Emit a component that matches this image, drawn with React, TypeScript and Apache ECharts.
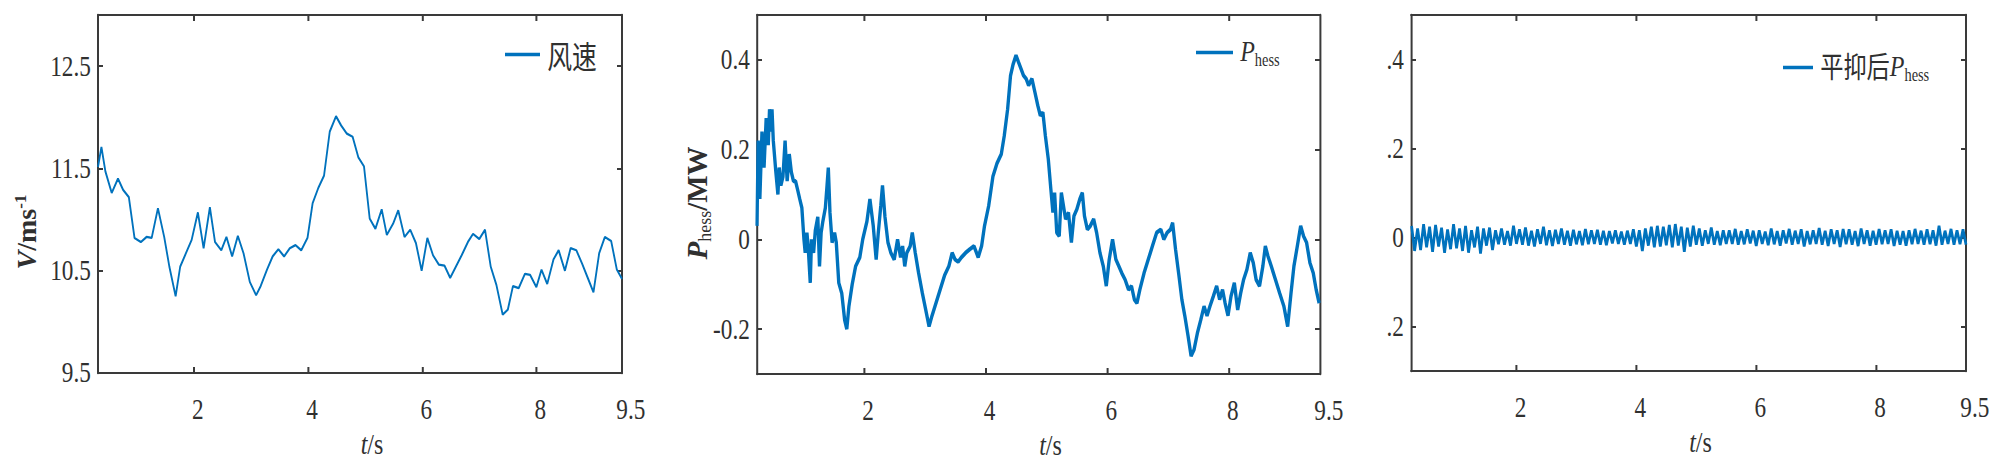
import React, { useEffect, useRef } from "react";
import * as echarts from "echarts";

// ---------- data ----------
const time1 = [0.32,0.38,0.45,0.56,0.67,0.76,0.86,0.96,1.07,1.17,1.26,1.37,1.48,1.57,1.68,1.76,1.86,1.96,2.07,2.17,2.28,2.37,2.48,2.57,2.67,2.77,2.87,2.98,3.09,3.17,3.28,3.38,3.48,3.58,3.68,3.78,3.88,3.99,4.08,4.18,4.28,4.38,4.49,4.58,4.68,4.78,4.88,4.98,5.08,5.18,5.29,5.38,5.49,5.58,5.69,5.79,5.89,5.99,6.09,6.19,6.29,6.39,6.49,6.59,6.69,6.80,6.89,7.00,7.10,7.20,7.30,7.41,7.50,7.59,7.69,7.80,7.89,8.00,8.09,8.19,8.30,8.39,8.50,8.60,8.70,8.80,8.90,9.00,9.10,9.20,9.31,9.41,9.50];
const windSpeed = [11.515,11.71,11.47,11.26,11.40,11.29,11.22,10.82,10.78,10.83,10.82,11.11,10.83,10.54,10.25,10.54,10.67,10.80,11.07,10.72,11.12,10.78,10.70,10.83,10.64,10.84,10.67,10.39,10.26,10.35,10.51,10.64,10.71,10.64,10.72,10.75,10.70,10.82,11.16,11.31,11.43,11.86,12.01,11.92,11.84,11.81,11.61,11.52,11.01,10.91,11.10,10.85,10.96,11.09,10.83,10.90,10.77,10.50,10.82,10.65,10.56,10.55,10.43,10.54,10.65,10.78,10.86,10.81,10.90,10.54,10.36,10.07,10.12,10.35,10.33,10.47,10.46,10.34,10.51,10.37,10.61,10.70,10.50,10.72,10.70,10.57,10.43,10.29,10.67,10.83,10.79,10.51,10.42];

const time2 = [0.239,0.260,0.287,0.322,0.356,0.391,0.425,0.446,0.474,0.487,0.508,0.550,0.584,0.605,0.633,0.667,0.702,0.736,0.771,0.805,0.840,0.874,0.909,0.943,0.978,1.012,1.033,1.061,1.081,1.116,1.137,1.171,1.199,1.240,1.268,1.295,1.323,1.364,1.392,1.413,1.440,1.475,1.516,1.544,1.585,1.634,1.682,1.717,1.751,1.806,1.862,1.931,1.979,2.048,2.097,2.152,2.200,2.235,2.276,2.304,2.345,2.394,2.442,2.497,2.552,2.601,2.635,2.670,2.704,2.760,2.794,2.843,2.898,2.960,3.015,3.070,3.119,3.188,3.257,3.326,3.395,3.450,3.498,3.547,3.602,3.671,3.740,3.809,3.878,3.934,3.982,4.051,4.120,4.189,4.258,4.306,4.362,4.410,4.452,4.500,4.541,4.583,4.624,4.666,4.707,4.762,4.811,4.859,4.900,4.942,4.983,5.031,5.073,5.107,5.135,5.170,5.211,5.246,5.280,5.315,5.363,5.411,5.453,5.501,5.550,5.591,5.626,5.674,5.722,5.777,5.826,5.881,5.936,5.985,6.033,6.088,6.143,6.192,6.240,6.295,6.351,6.399,6.447,6.489,6.537,6.606,6.675,6.744,6.813,6.882,6.931,6.986,7.041,7.076,7.124,7.179,7.228,7.276,7.331,7.380,7.428,7.483,7.538,7.593,7.642,7.690,7.745,7.800,7.849,7.897,7.939,7.987,8.036,8.091,8.146,8.195,8.243,8.298,8.353,8.402,8.450,8.505,8.560,8.601,8.643,8.699,8.768,8.837,8.906,8.968,9.023,9.071,9.127,9.182,9.230,9.279,9.334,9.389,9.437,9.486];
const pHess = [0.03,0.22,0.09,0.24,0.16,0.27,0.21,0.29,0.24,0.29,0.22,0.15,0.10,0.16,0.12,0.14,0.22,0.13,0.19,0.15,0.13,0.13,0.11,0.09,0.07,0.0,-0.03,0.015,-0.015,-0.097,0,-0.03,0.02,0.05,-0.06,0.015,0.04,0.07,0.12,0.16,0.06,-0.007,0.015,-0.007,-0.097,-0.12,-0.18,-0.20,-0.15,-0.10,-0.06,-0.04,0,0.04,0.09,0.03,-0.045,0.015,0.075,0.12,0.05,-0.007,-0.03,-0.045,0,-0.04,-0.015,-0.06,-0.03,-0.015,0.015,-0.03,-0.075,-0.12,-0.157,-0.194,-0.17,-0.14,-0.11,-0.08,-0.06,-0.03,-0.045,-0.05,-0.04,-0.03,-0.022,-0.015,-0.04,-0.015,0.03,0.075,0.14,0.17,0.19,0.23,0.29,0.365,0.39,0.41,0.395,0.38,0.365,0.358,0.343,0.358,0.328,0.298,0.276,0.283,0.231,0.179,0.112,0.06,0.104,0.015,0.007,0.104,0.075,0.045,0.06,-0.007,0.052,0.067,0.09,0.104,0.052,0.022,0.03,0.045,0.015,-0.03,-0.06,-0.104,-0.045,0,-0.045,-0.06,-0.075,-0.09,-0.112,-0.104,-0.134,-0.142,-0.112,-0.075,-0.045,-0.015,0.015,0.022,0,0.015,0.022,0.037,-0.022,-0.08,-0.134,-0.17,-0.216,-0.26,-0.246,-0.209,-0.18,-0.149,-0.17,-0.149,-0.127,-0.104,-0.134,-0.112,-0.142,-0.17,-0.127,-0.097,-0.157,-0.12,-0.09,-0.067,-0.03,-0.052,-0.09,-0.104,-0.06,-0.015,-0.037,-0.06,-0.09,-0.12,-0.149,-0.194,-0.12,-0.06,-0.015,0.03,0.007,-0.007,-0.052,-0.075,-0.112,-0.142];

const time3Start = 0.25;
const time3Step = 0.05;
const pHessSmoothed = [
  0.026,-0.03,0.02,-0.028,0.03,-0.022,0.024,-0.032,0.028,-0.02,0.022,-0.034,0.018,-0.026,0.03,-0.024,0.02,-0.03,0.026,-0.034,0.016,-0.022,0.024,-0.036,0.02,-0.018,0.022,-0.028,
  0.016,-0.015,0.02,-0.016,0.014,-0.018,0.026,-0.014,0.018,-0.016,0.022,-0.018,0.015,-0.02,0.018,-0.014,0.024,-0.017,0.016,-0.019,0.017,-0.014,0.02,-0.016,0.015,-0.018,0.017,-0.015,0.014,-0.017,0.019,-0.015,0.016,-0.014,0.017,-0.016,0.015,-0.017,
  0.014,-0.013,0.016,-0.014,0.013,-0.016,0.015,-0.014,0.018,-0.02,0.016,-0.03,0.02,-0.018,0.024,-0.022,0.026,-0.02,0.024,-0.017,0.028,-0.022,0.03,-0.018,0.024,-0.032,0.022,-0.02,0.026,-0.016,0.02,-0.018,0.016,-0.014,0.022,-0.016,0.014,-0.017,0.016,-0.014,
  0.016,-0.014,0.019,-0.016,0.014,-0.015,0.018,-0.013,0.015,-0.019,0.016,-0.014,0.013,-0.017,0.02,-0.015,0.014,-0.018,0.016,-0.013,
  0.019,-0.016,0.015,-0.014,0.018,-0.02,0.014,-0.015,0.016,-0.014,0.021,-0.016,0.015,-0.019,0.018,-0.014,0.016,-0.021,0.019,-0.015,
  0.018,-0.016,0.014,-0.019,0.02,-0.014,0.016,-0.018,0.015,-0.016,0.019,-0.015,0.016,-0.014,0.018,-0.019,0.015,-0.016,0.014,-0.018,
  0.016,-0.015,0.019,-0.014,0.015,-0.016,0.018,-0.015,0.016,-0.018,0.026,-0.016,0.015,-0.014,0.019,-0.016,0.016,-0.015,0.018,-0.016
];

const xTicks = [2, 4, 6, 8];
const xLabels = [2, 4, 6, 8, 9.5];
const yTicks1 = [9.5, 10.5, 11.5, 12.5];
const yTicks2 = [-0.2, 0, 0.2, 0.4];
const yTicks3 = [-0.2, 0, 0.2, 0.4];
const yLabels3: Record<string, string> = { "-0.2": ".2", "0": "0", "0.2": ".2", "0.4": ".4" };

// ---------- layout / style ----------
const SX = 0.8; // horizontal compression of the whole figure
const W = 2000 / SX;
const H = 467;
const px = (v: number) => v / SX;
const BLUE = "#0072BD";
const FRAME = "#3a3a3a";
const TEXT = "#303030";
const FONT = "'Liberation Serif', 'Times New Roman', 'Noto Sans CJK SC', serif";
const CJK = "'Noto Sans CJK SC', 'Liberation Serif', serif";

const grids = [
  { left: px(98), top: 15, width: px(524), height: 358, xmin: 0.32, xmax: 9.5, ymin: 9.5, ymax: 13, yTicks: yTicks1 },
  { left: px(757), top: 15, width: px(563), height: 359, xmin: 0.24, xmax: 9.5, ymin: -0.3, ymax: 0.5, yTicks: yTicks2 },
  { left: px(1411), top: 15, width: px(555), height: 356, xmin: 0.24, xmax: 9.5, ymin: -0.3, ymax: 0.5, yTicks: yTicks3 },
];

const yFormatters = [
  (v: number) => String(v),
  (v: number) => String(v),
  (v: number) => yLabels3[String(v)] ?? String(v),
];

function buildOption() {
  const xAxis: any[] = [];
  const yAxis: any[] = [];
  grids.forEach((g, i) => {
    xAxis.push({
      type: "value", gridIndex: i, min: g.xmin, max: g.xmax, position: "bottom",
      axisLine: { show: true, onZero: false, lineStyle: { color: FRAME, width: 2 } },
      axisTick: { show: true, inside: true, length: 6, customValues: xTicks, lineStyle: { color: FRAME, width: 2.5 } },
      axisLabel: {
        customValues: xLabels, margin: 22, fontSize: 29, fontFamily: FONT, color: TEXT,
        formatter: (v: number) => (v === 9.5 ? "{e|9.5}" : "{n|" + v + "}"),
        rich: {
          n: { fontSize: 29, fontFamily: FONT, color: TEXT, padding: [0, 0, 0, 10] },
          e: { fontSize: 29, fontFamily: FONT, color: TEXT, padding: [0, 0, 0, 22] },
        },
      },
      splitLine: { show: false },
      name: "{i|t}{n|/s}", nameLocation: "middle", nameGap: 55,
      nameTextStyle: {
        padding: [0, 0, 0, 30],
        rich: {
          i: { fontSize: 30, fontFamily: FONT, fontStyle: "italic", color: TEXT },
          n: { fontSize: 30, fontFamily: FONT, color: TEXT },
        },
      },
    });
    xAxis.push({
      type: "value", gridIndex: i, min: g.xmin, max: g.xmax, position: "top",
      axisLine: { show: true, onZero: false, lineStyle: { color: FRAME, width: 2 } },
      axisTick: { show: true, inside: true, length: 6, customValues: xTicks, lineStyle: { color: FRAME, width: 2.5 } },
      axisLabel: { show: false },
      splitLine: { show: false },
    });
    yAxis.push({
      type: "value", gridIndex: i, min: g.ymin, max: g.ymax, position: "left",
      axisLine: { show: true, onZero: false, lineStyle: { color: FRAME, width: 2.5 } },
      axisTick: { show: true, inside: true, length: px(5), customValues: g.yTicks, lineStyle: { color: FRAME, width: 2 } },
      axisLabel: {
        customValues: g.yTicks, margin: 9, fontSize: 29, fontFamily: FONT, color: TEXT,
        padding: [10, 0, 0, 0], formatter: yFormatters[i],
      },
      splitLine: { show: false },
    });
    yAxis.push({
      type: "value", gridIndex: i, min: g.ymin, max: g.ymax, position: "right",
      axisLine: { show: true, onZero: false, lineStyle: { color: FRAME, width: 2.5 } },
      axisTick: { show: true, inside: true, length: px(5), customValues: g.yTicks, lineStyle: { color: FRAME, width: 2 } },
      axisLabel: { show: false },
      splitLine: { show: false },
    });
  });

  const d1 = time1.map((t, i) => [t, windSpeed[i]]).filter((p) => p[1] !== undefined);
  const d2 = time2.map((t, i) => [t, pHess[i]]).filter((p) => p[1] !== undefined);
  const d3 = pHessSmoothed.map((v, i) => [+(time3Start + i * time3Step).toFixed(3), v]);

  const legendBase = {
    orient: "horizontal", padding: 0, icon: "rect", itemHeight: 3.5,
    textStyle: { fontSize: 29, fontFamily: FONT, color: TEXT, padding: [0, 0, 0, 4] },
  };

  const subRich = {
    p: { fontSize: 30, fontFamily: FONT, fontStyle: "italic", color: TEXT, padding: [0, 0, 3, 0] },
    s: { fontSize: 18, fontFamily: FONT, color: TEXT, verticalAlign: "bottom" },
    c: { fontSize: 29, fontFamily: CJK, color: TEXT, padding: [0, 0, 3, 0] },
    w: { fontSize: 31, fontFamily: CJK, color: TEXT },
  };

  return {
    animation: false,
    backgroundColor: "#ffffff",
    grid: grids.map((g) => ({ left: g.left, top: g.top, width: g.width, height: g.height, containLabel: false })),
    xAxis,
    yAxis,
    legend: [
      {
        ...legendBase, data: ["风速"], left: px(505), top: 39, itemWidth: px(35),
        formatter: () => "{w|风速}", textStyle: { ...legendBase.textStyle, rich: subRich },
      },
      {
        ...legendBase, data: ["Phess"], left: px(1196), top: 36, itemWidth: px(37),
        formatter: () => "{p|P}{s|hess}", textStyle: { ...legendBase.textStyle, rich: subRich },
      },
      {
        ...legendBase, data: ["平抑后Phess"], left: px(1783), top: 51, itemWidth: px(30),
        formatter: () => "{c|平抑后}{p|P}{s|hess}", textStyle: { ...legendBase.textStyle, rich: subRich },
      },
    ],
    series: [
      {
        name: "风速", type: "line", xAxisIndex: 0, yAxisIndex: 0, data: d1,
        showSymbol: false, symbol: "none", clip: true,
        lineStyle: { color: BLUE, width: 2.3 }, itemStyle: { color: BLUE },
      },
      {
        name: "Phess", type: "line", xAxisIndex: 2, yAxisIndex: 2, data: d2,
        showSymbol: false, symbol: "none", clip: true,
        lineStyle: { color: BLUE, width: 4.2 }, itemStyle: { color: BLUE },
      },
      {
        name: "平抑后Phess", type: "line", xAxisIndex: 4, yAxisIndex: 4, data: d3,
        showSymbol: false, symbol: "none", clip: true,
        lineStyle: { color: BLUE, width: 3.4 }, itemStyle: { color: BLUE },
      },
    ],
    graphic: [
      {
        type: "text", x: px(26), y: 232, rotation: Math.PI / 2, scaleY: 1 / SX,
        style: {
          text: "{v|V}{n|/ms}{u|-1}", align: "center", verticalAlign: "middle",
          rich: {
            v: { fontSize: 28, fontFamily: FONT, fontStyle: "italic", fontWeight: "bold", fill: TEXT },
            n: { fontSize: 28, fontFamily: FONT, fontWeight: "bold", fill: TEXT },
            u: { fontSize: 17, fontFamily: FONT, fontWeight: "bold", fill: TEXT, verticalAlign: "top" },
          },
        },
      },
      {
        type: "text", x: px(698), y: 203, rotation: Math.PI / 2, scaleY: 1 / SX,
        style: {
          text: "{p|P}{s|hess}{n|/MW}", align: "center", verticalAlign: "middle",
          rich: {
            p: { fontSize: 29, fontFamily: FONT, fontStyle: "italic", fontWeight: "bold", fill: TEXT, padding: [0, 0, 3, 0] },
            s: { fontSize: 18, fontFamily: FONT, fill: TEXT, verticalAlign: "bottom" },
            n: { fontSize: 29, fontFamily: FONT, fontWeight: "bold", fill: TEXT, padding: [0, 0, 3, 0] },
          },
        },
      },
    ],
  };
}

export default function App() {
  const ref = useRef<HTMLDivElement | null>(null);
  useEffect(() => {
    document.body.style.margin = "0";
    document.body.style.overflow = "hidden";
    const chart = echarts.init(ref.current as HTMLDivElement, null, { renderer: "svg", width: W, height: H });
    chart.setOption(buildOption() as any);
    return () => chart.dispose();
  }, []);
  return (
    <div
      style={{
        position: "fixed", left: 0, top: 0, width: W, height: H,
        transform: `scaleX(${SX})`, transformOrigin: "0 0", background: "#fff",
      }}
    >
      <div ref={ref} style={{ width: W, height: H }} />
    </div>
  );
}
